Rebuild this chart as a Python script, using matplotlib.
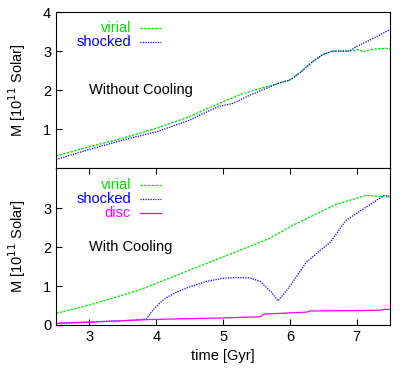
import matplotlib
matplotlib.use("Agg")
import matplotlib.pyplot as plt

plt.rcParams["font.family"] = ["Liberation Sans", "DejaVu Sans"]
plt.rcParams["font.size"] = 10

# Panel superior: sin enfriamiento
t_vir_nc = [2.5, 3.0, 3.5, 4.0, 4.5, 4.65, 5.05, 5.3, 5.55, 5.82, 6.0, 6.14, 6.34, 6.49, 6.64, 6.89,
            7.04, 7.09, 7.24, 7.44, 7.5]
m_vir_nc = [0.31, 0.55, 0.77, 1.02, 1.32, 1.44, 1.74, 1.91, 2.04, 2.17, 2.26, 2.43, 2.73, 2.91, 3.0, 3.0,
            3.04, 2.98, 3.05, 3.07, 3.06]
t_sh_nc = [2.5, 3.0, 3.5, 4.0, 4.5, 4.65, 4.95, 5.15, 5.4, 5.82, 6.0, 6.14, 6.34, 6.49, 6.64, 6.89,
           6.99, 7.24, 7.46, 7.5]
m_sh_nc = [0.22, 0.48, 0.72, 0.93, 1.23, 1.36, 1.59, 1.66, 1.87, 2.17, 2.26, 2.43, 2.73, 2.91, 3.0, 3.0,
           3.11, 3.32, 3.52, 3.55]

# Panel inferior: con enfriamiento
t_vir_c = [2.5, 3.0, 3.75, 4.75, 5.69, 6.04, 6.69, 7.14, 7.44, 7.5]
m_vir_c = [0.30, 0.51, 0.90, 1.58, 2.22, 2.56, 3.10, 3.33, 3.29, 3.29]
t_sh_c = [2.5, 3.0, 3.5, 3.85, 3.95, 4.05, 4.15, 4.3, 4.5, 4.75, 5.0, 5.2, 5.4, 5.55, 5.64, 5.72, 5.82,
          5.9, 6.0, 6.1, 6.24, 6.49, 6.6, 6.84, 7.14, 7.41, 7.5]
m_sh_c = [0.04, 0.08, 0.11, 0.15, 0.38, 0.56, 0.70, 0.84, 0.98, 1.12, 1.20, 1.22, 1.21, 1.12, 0.98, 0.85, 0.62,
          0.78, 1.0, 1.25, 1.60, 1.97, 2.12, 2.69, 3.03, 3.33, 3.31]
t_disc = [2.5, 3.0, 3.9, 5.0, 5.55, 5.62, 6.0, 6.25, 6.3, 7.0, 7.35, 7.4, 7.5]
m_disc = [0.04, 0.07, 0.14, 0.18, 0.21, 0.28, 0.31, 0.33, 0.36, 0.37, 0.38, 0.40, 0.40]

fig = plt.figure(figsize=(4.09, 3.77), dpi=100)
ax1 = fig.add_axes([0.137, 0.554, 0.817, 0.414])
ax2 = fig.add_axes([0.137, 0.138, 0.817, 0.416])

verde = "#00e000"
azul = "#0000ff"
magenta = "#ff00ff"
raya = (0, (2, 1))
punto = (0, (1, 1))

ax1.plot(t_vir_nc, m_vir_nc, color=verde, lw=0.9, ls=raya)
ax1.plot(t_sh_nc, m_sh_nc, color=azul, lw=0.9, ls=punto)
ax2.plot(t_vir_c, m_vir_c, color=verde, lw=0.9, ls=raya)
ax2.plot(t_sh_c, m_sh_c, color=azul, lw=0.9, ls=punto)
ax2.plot(t_disc, m_disc, color=magenta, lw=0.9)

for ax in (ax1, ax2):
    ax.set_xlim(2.5, 7.5)
    ax.set_xticks([3, 4, 5, 6, 7])
    ax.tick_params(direction="in", length=4, width=0.8, labelsize=10.5)
    ax.set_ylabel("M [10$^{11}$ Solar]", fontsize=10.5)
    ax.yaxis.set_label_coords(-0.085, 0.5)

ax1.set_ylim(0, 4)
ax1.set_yticks([1, 2, 3, 4])
ax1.tick_params(labelbottom=False, bottom=False)
ax2.set_ylim(0, 4.03)
ax2.set_yticks([0, 1, 2, 3])
ax2.tick_params(top=True)
ax2.set_xlabel("time [Gyr]", fontsize=10.5)

# Leyendas al estilo gnuplot
def leyenda(ax, etiquetas, colores, estilos, y0, dy):
    for i, (et, col, est) in enumerate(zip(etiquetas, colores, estilos)):
        y = y0 - i * dy
        ax.text(0.225, y, et, color=col, ha="right", va="center", transform=ax.transAxes, fontsize=10.5)
        ax.plot([0.25, 0.315], [y, y], color=col, lw=0.9, ls=est, transform=ax.transAxes)

leyenda(ax1, ["virial", "shocked"], [verde, azul], [raya, punto], 0.895, 0.09)
leyenda(ax2, ["virial", "shocked", "disc"], [verde, azul, magenta], [raya, punto, "-"], 0.895, 0.09)

ax1.text(0.1, 0.5, "Without Cooling", transform=ax1.transAxes, va="center", fontsize=10.5)
ax2.text(0.1, 0.5, "With Cooling", transform=ax2.transAxes, va="center", fontsize=10.5)

fig.savefig("out.png", dpi=100)
